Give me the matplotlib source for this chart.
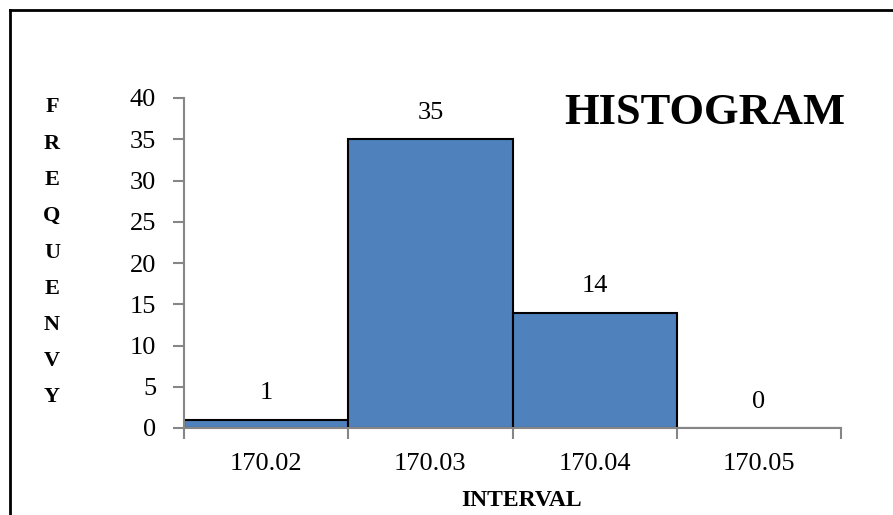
import matplotlib.pyplot as plt
from matplotlib.lines import Line2D

# histogram data
intervals = ["170.02", "170.03", "170.04", "170.05"]
counts = [1, 35, 14, 0]
y_letters = list("FREQUENVY")

bar_color = "#4F81BD"
axis_grey = "#868686"
plt.rcParams['font.family'] = ['Liberation Serif', 'DejaVu Serif']

fig = plt.figure(figsize=(8.93, 5.15), dpi=100)
ax = fig.add_axes([184/893, 1-428/515, (841-184)/893, (428-98)/515])

pos = list(range(len(intervals)))
ax.bar(pos, counts, width=1.0, color=bar_color, edgecolor="black", linewidth=1.5)
for p, c in zip(pos, counts):
	ax.annotate(str(c), (p, c), xytext=(0, 19), textcoords="offset points",
		ha="center", va="center", fontsize=19)

ax.set_xlim(-0.5, len(intervals) - 0.5)
ax.set_ylim(0, 40)
ax.set_yticks(range(0, 41, 5))
ax.set_xticks([p + 0.5 for p in pos[:-1]] + [-0.5, len(intervals) - 0.5])
ax.set_xticklabels([""] * (len(intervals) + 1))
ax.set_xticks(pos, minor=True)
ax.set_xticklabels(intervals, minor=True, fontsize=19)
ax.tick_params(axis="x", which="minor", length=0, pad=18)
ax.tick_params(axis="x", which="major", length=8, width=1.5, color=axis_grey)
ax.tick_params(axis="y", length=8, width=1.5, color=axis_grey, labelsize=19, pad=12)

for s in ["top", "right"]:
	ax.spines[s].set_visible(False)
for s in ["left", "bottom"]:
	ax.spines[s].set_color(axis_grey)
	ax.spines[s].set_linewidth(1.5)

# vertical letters of the y label
for i, ch in enumerate(y_letters):
	fig.text(52/893, 1 - (107.5 + i*36.25)/515, ch, ha="center", va="center",
		fontsize=16, fontweight="bold")

fig.text(522/893, 1-500/515, "INTERVAL", ha="center", va="center",
	fontsize=17, fontweight="bold")
fig.text(705/893, 1-113/515, "HISTOGRAM", ha="center", va="center",
	fontsize=32, fontweight="bold")

# outer frame (left and top)
fig.add_artist(Line2D([10/893, 10/893], [0, 1-10/515], color="black", linewidth=2))
fig.add_artist(Line2D([10/893, 1], [1-10/515, 1-10/515], color="black", linewidth=2))

fig.savefig("out.png", dpi=100)
